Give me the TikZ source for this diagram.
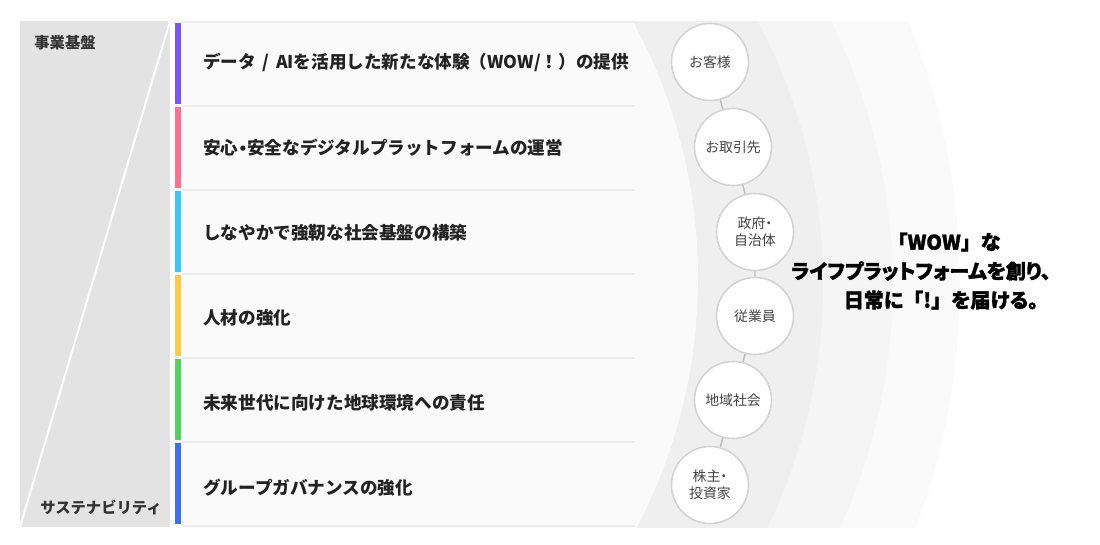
\documentclass[tikz,border=0pt]{standalone}
\usepackage{fontspec}
\setmainfont{Noto Sans CJK JP}
\newfontfamily\paltfont[RawFeature=+palt, BoldFeatures={FakeBold=1.6}]{Noto Sans CJK JP}
\newfontfamily\fullfont[BoldFeatures={FakeBold=1.6}]{Noto Sans CJK JP}
\definecolor{panelgray}{HTML}{E3E3E3}
\definecolor{band1}{HTML}{FAFAFA}
\definecolor{band2}{HTML}{EFEFEF}
\definecolor{band3}{HTML}{F5F5F5}
\definecolor{band4}{HTML}{FAFAFA}
\definecolor{sepgray}{HTML}{ECECEC}
\definecolor{circedge}{HTML}{D4D4D4}
\definecolor{linkgray}{HTML}{BDBDBD}
\definecolor{textdark}{HTML}{222222}
\definecolor{textmid}{HTML}{333333}
\definecolor{textlight}{HTML}{444444}
\definecolor{barpurple}{HTML}{7A55FF}
\definecolor{barpink}{HTML}{FF7090}
\definecolor{barcyan}{HTML}{3CC8F5}
\definecolor{baryellow}{HTML}{FFCA48}
\definecolor{bargreen}{HTML}{52D160}
\definecolor{barblue}{HTML}{3D6EF5}
\newcommand{\ndot}{{\paltfont ・}}
\begin{document}
\begin{tikzpicture}[x=0.75pt,y=-0.75pt,
  rowtext/.style={anchor=west, inner sep=0pt, text=textdark, font=\fontsize{13.2pt}{15pt}\selectfont\bfseries},
  sidelabel/.style={inner sep=0pt, text=textmid, font=\fontsize{11.5pt}{13pt}\selectfont\bfseries},
  stake/.style={circle, draw=circedge, line width=1.2pt, fill=white, minimum size=57.75pt, inner sep=0pt, align=center, text=textlight, font=\fontsize{10.4pt}{12.8pt}\selectfont},
  link/.style={draw=linkgray, line width=1.1pt},
  sepline/.style={draw=sepgray, line width=1.5pt},
  headline/.style={inner sep=0pt, text=black, font=\paltfont\fontsize{15pt}{18pt}\selectfont\bfseries}]
\useasboundingbox (0,0) rectangle (1100,545);
\fill[white] (0,0) rectangle (1100,545);

% concentric bands
\begin{scope}
  \clip (182,22) rectangle (1100,527);
  \fill[band4] (264,284) circle [radius=695.6];
  \fill[band3] (303,284) circle [radius=589.6];
  \fill[band2] (261,284) circle [radius=562];
  \fill[band1] (161,278) circle [radius=537];
\end{scope}

% left panel
\fill[panelgray] (20,21) rectangle (170,527);
\draw[white, line width=1.5pt] (170,21) -- (20,527);
\node[sidelabel] (biz) at (65,43) {事業基盤};
\node[sidelabel] (sus) at (101,508) {サステナビリティ};

% row separators
\foreach \yy in {22,106,190,274,358,442,526}
  \draw[sepline] (182,\yy) -- (635,\yy);

% colour bars
\fill[barpurple] (175,23) rectangle (181,104);
\fill[barpink]   (175,107) rectangle (181,188);
\fill[barcyan]   (175,191) rectangle (181,272);
\fill[baryellow] (175,275) rectangle (181,356);
\fill[bargreen]  (175,359) rectangle (181,440);
\fill[barblue]   (175,443) rectangle (181,524);

% row texts
\node[rowtext] (r1) at (203,62)  {データ\hspace{5pt}/\hspace{5pt}AIを活用した新たな体験（WOW/！）の提供};
\node[rowtext] (r2) at (203,148) {安心\ndot 安全なデジタルプラットフォームの運営};
\node[rowtext] (r3) at (203,233) {しなやかで強靭な社会基盤の構築};
\node[rowtext] (r4) at (203,318) {人材の強化};
\node[rowtext] (r5) at (203,403) {未来世代に向けた地球環境への責任};
\node[rowtext] (r6) at (203,488) {グループガバナンスの強化};

% stakeholders
\coordinate (p1) at (710,62);
\coordinate (p2) at (733,147);
\coordinate (p3) at (755,232);
\coordinate (p4) at (755,316);
\coordinate (p5) at (733,400);
\coordinate (p6) at (710,485);
\draw[link] (p1) -- (p2) -- (p3) -- (p4) -- (p5) -- (p6);
\node[stake] (c1) at (p1) {お客様};
\node[stake] (c2) at (p2) {お取引先};
\node[stake] (c3) at (p3) {政府\ndot\\自治体};
\node[stake] (c4) at (p4) {従業員};
\node[stake] (c5) at (p5) {地域社会};
\node[stake] (c6) at (p6) {株主\ndot\\投資家};

% headline
\node[headline] (head1) at (944,242) {{\fullfont\bfseries 「}WOW{\fullfont\bfseries 」}な};
\node[headline] (head2) at (921,271) {ライフプラットフォームを創り、};
\node[headline] (head3) at (941,300) {日常に{\fullfont\bfseries 「}!{\fullfont\bfseries 」}を届ける。};
\end{tikzpicture}
\end{document}
